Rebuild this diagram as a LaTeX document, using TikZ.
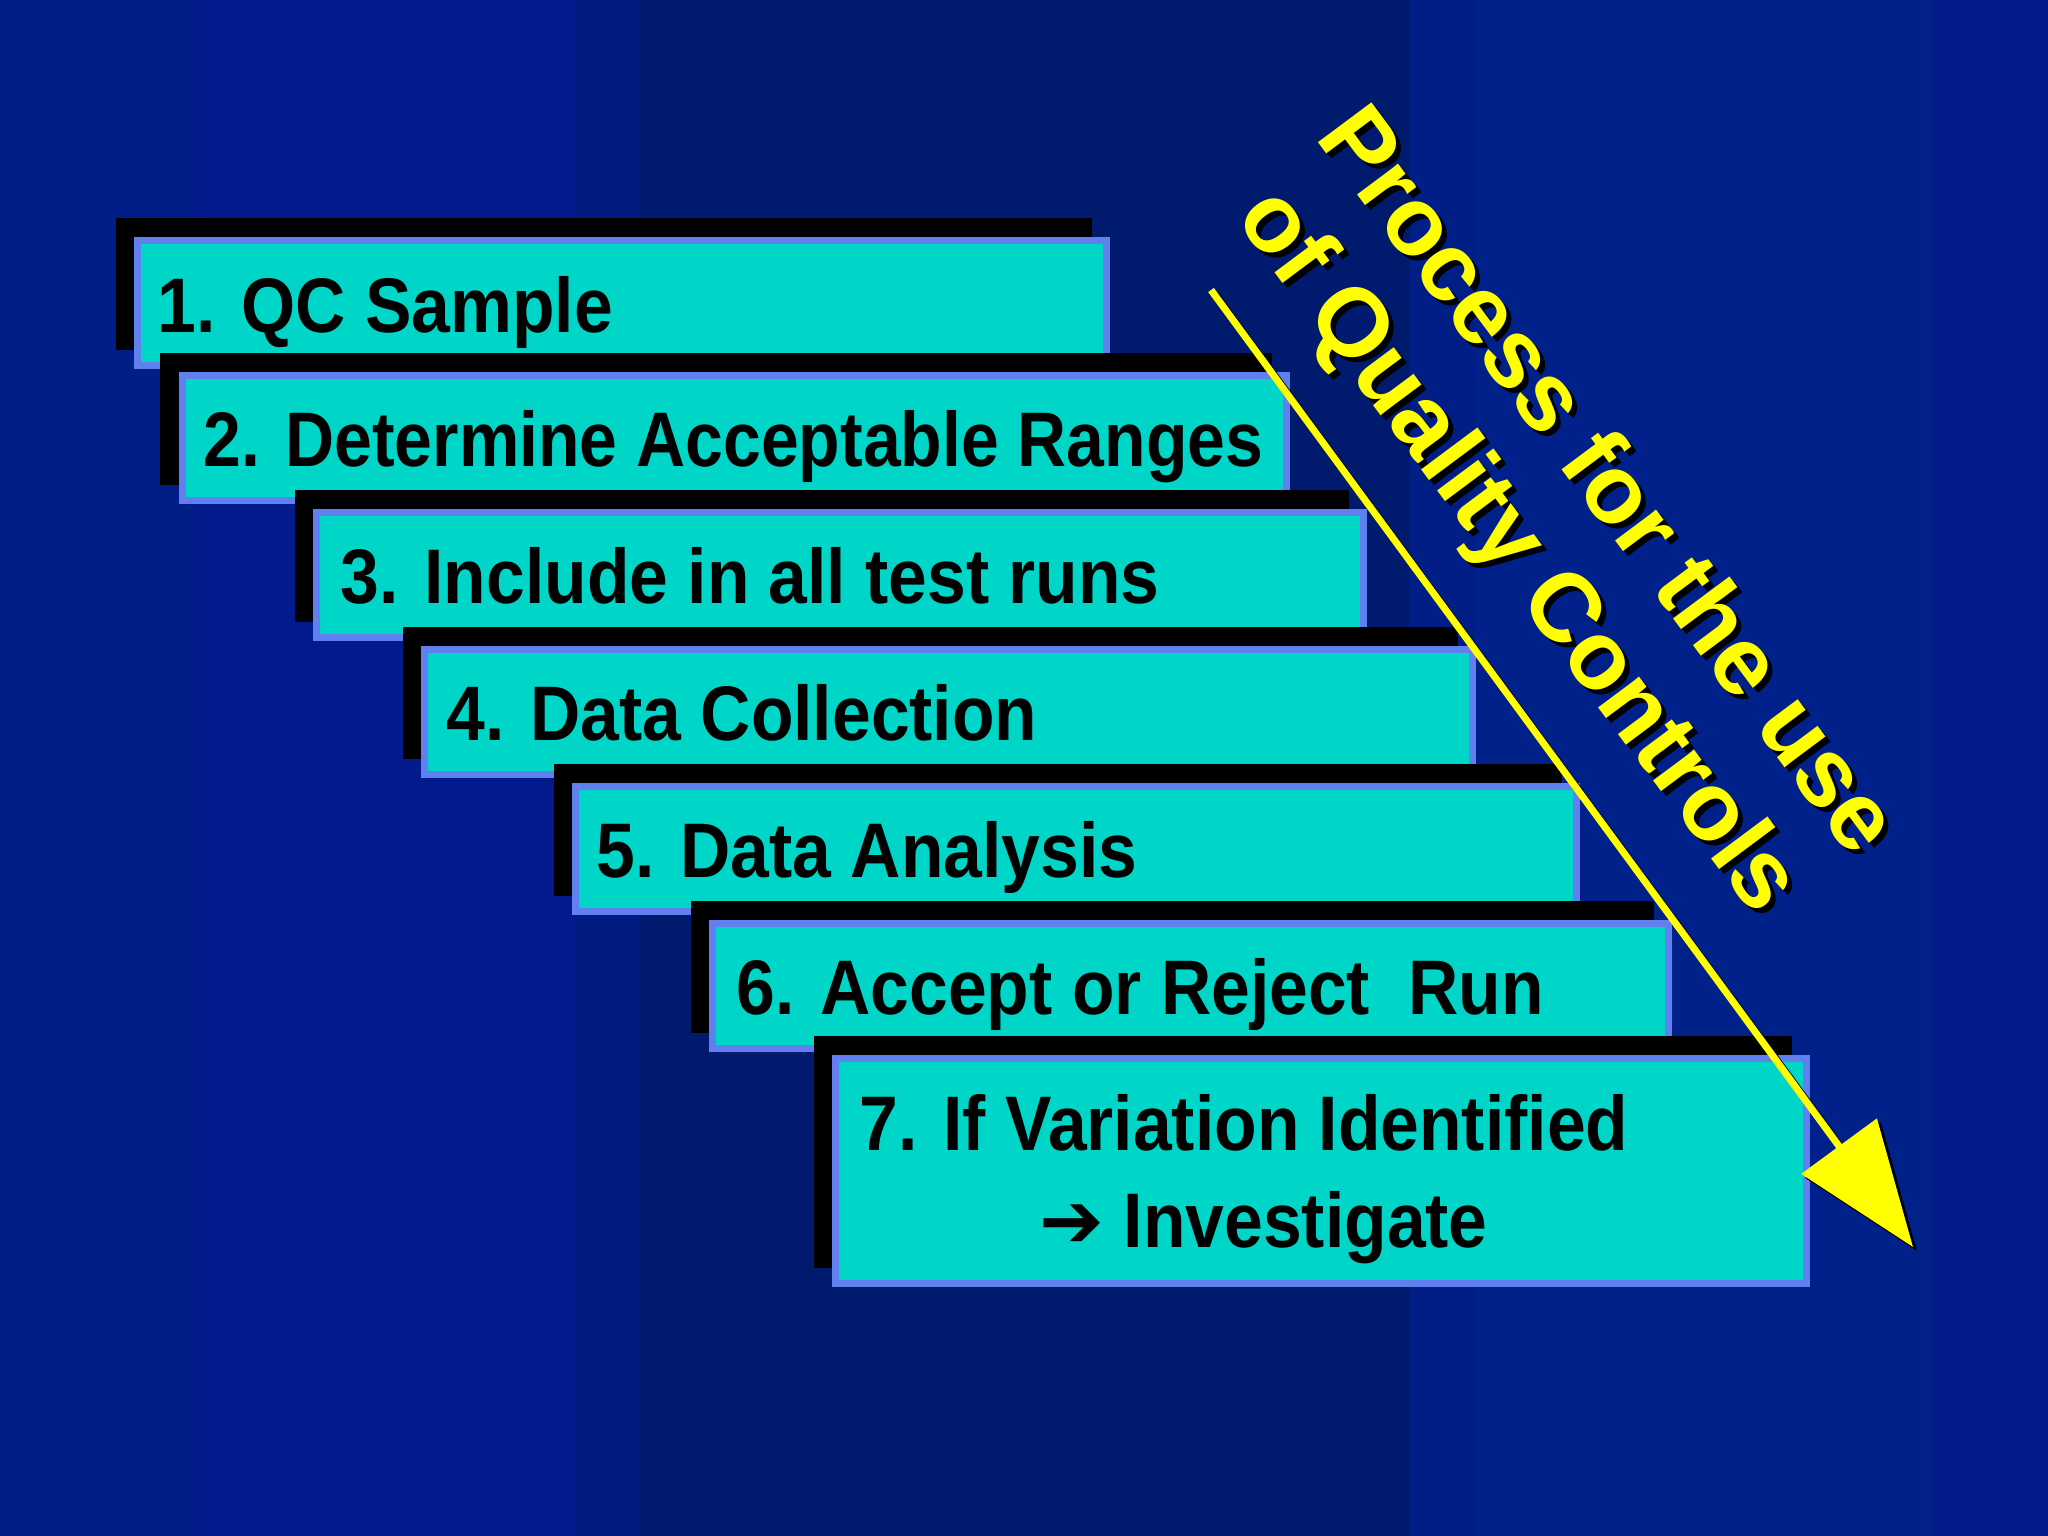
\documentclass[tikz,border=0pt]{standalone}
\usepackage{fontspec}
\usetikzlibrary{arrows.meta}
\newfontfamily\boxfont{Liberation Sans}[FakeStretch=0.9]
\newfontfamily\boxfontnarrow{Liberation Sans}[FakeStretch=0.878]
\newfontfamily\titlefont{Liberation Sans}
\newfontfamily\symfont{DejaVu Sans}
\definecolor{bgA}{HTML}{001E88}
\definecolor{bgB}{HTML}{021A8C}
\definecolor{bgC}{HTML}{001C80}
\definecolor{bgD}{HTML}{001A6E}
\definecolor{bgE}{HTML}{001E86}
\definecolor{bgF}{HTML}{00208A}
\definecolor{bgG}{HTML}{031A8A}
\definecolor{qcyan}{HTML}{00D6C8}
\definecolor{edgeblue}{HTML}{6080F0}
\definecolor{qyellow}{HTML}{FFFF00}
\begin{document}
\begin{tikzpicture}[x=0.01cm,y=-0.01cm,
  stepbox/.style={draw=edgeblue, line width=0.07cm, fill=qcyan, inner sep=0pt, outer sep=0pt},
  stepshadow/.style={fill=black, inner sep=0pt, outer sep=0pt},
  steptext/.style={anchor=base west, inner sep=0pt, text=black, font=\boxfont\bfseries\fontsize{22}{26}\selectfont},
  titletext/.style={anchor=base, inner sep=0pt, rotate=-53.3, text=qyellow, font=\titlefont\bfseries\fontsize{27.6}{32}\selectfont},
  titleshadow/.style={titletext, text=black},
  flowarrow/.style={draw=qyellow, line width=0.07cm, -{Triangle[length=1.25cm,width=0.92cm]}},
  flowshadow/.style={draw=black, line width=0.07cm, -{Triangle[length=1.25cm,width=0.92cm]}}
]
\useasboundingbox (0,0) rectangle (2048,1536);
% background bands
\fill[bgA] (0,0) rectangle (196,1536);
\fill[bgB] (196,0) rectangle (574,1536);
\fill[bgC] (574,0) rectangle (640,1536);
\fill[bgD] (640,0) rectangle (1410,1536);
\fill[bgE] (1410,0) rectangle (1475,1536);
\fill[bgF] (1475,0) rectangle (1932,1536);
\fill[bgG] (1932,0) rectangle (2048,1536);

% step 1
\node[stepshadow, minimum width=9.76cm, minimum height=1.32cm] (s1) at (604,284) {};
\node[stepbox, minimum width=9.69cm, minimum height=1.25cm] (b1) at (622,303) {};
\node[steptext] (t1) at (157,332) {1. QC Sample};
% step 2
\node[stepshadow, minimum width=11.11cm, minimum height=1.32cm] (s2) at (716,419) {};
\node[stepbox, minimum width=11.04cm, minimum height=1.25cm] (b2) at (734.5,438) {};
\node[steptext, font=\boxfontnarrow\bfseries\fontsize{22}{26}\selectfont] (t2) at (203,466) {2. Determine Acceptable Ranges};
% step 3
\node[stepshadow, minimum width=10.54cm, minimum height=1.32cm] (s3) at (822,556) {};
\node[stepbox, minimum width=10.47cm, minimum height=1.25cm] (b3) at (840,575) {};
\node[steptext] (t3) at (340,603) {3. Include in all test runs};
% step 4
\node[stepshadow, minimum width=10.55cm, minimum height=1.32cm] (s4) at (930.5,693) {};
\node[stepbox, minimum width=10.48cm, minimum height=1.25cm] (b4) at (948.5,712) {};
\node[steptext] (t4) at (446,740) {4. Data Collection};
% step 5
\node[stepshadow, minimum width=10.08cm, minimum height=1.32cm] (s5) at (1058,830) {};
\node[stepbox, minimum width=10.01cm, minimum height=1.25cm] (b5) at (1076,849) {};
\node[steptext] (t5) at (596,877) {5. Data Analysis};
% step 6
\node[stepshadow, minimum width=9.63cm, minimum height=1.32cm] (s6) at (1172.5,967) {};
\node[stepbox, minimum width=9.56cm, minimum height=1.25cm] (b6) at (1190.5,986) {};
\node[steptext] (t6) at (736,1014) {6. Accept or Reject\ \ Run};
% step 7
\node[stepshadow, minimum width=9.78cm, minimum height=2.32cm] (s7) at (1303,1152) {};
\node[stepbox, minimum width=9.71cm, minimum height=2.25cm] (b7) at (1321,1171) {};
\node[steptext] (t7a) at (859,1150) {7. If Variation Identified};
\node[steptext] (t7b) at (1039,1247) {{\symfont\symbol{"2794}} Investigate};

% arrow
\coordinate (as) at (1211,290);
\coordinate (ae) at (1913,1247);
\coordinate (ass) at (1215,294);
\coordinate (aes) at (1917,1251);
\draw[flowshadow] (ass) -- (aes);
\draw[flowarrow] (as) -- (ae);

% rotated title
\node[titleshadow] (p1s) at (1589,504) {Process for the use};
\node[titletext] (p1) at (1584,499) {Process for the use};
\node[titleshadow] (p2s) at (1500,573) {of Quality Controls};
\node[titletext] (p2) at (1495,568) {of Quality Controls};
\end{tikzpicture}
\end{document}
